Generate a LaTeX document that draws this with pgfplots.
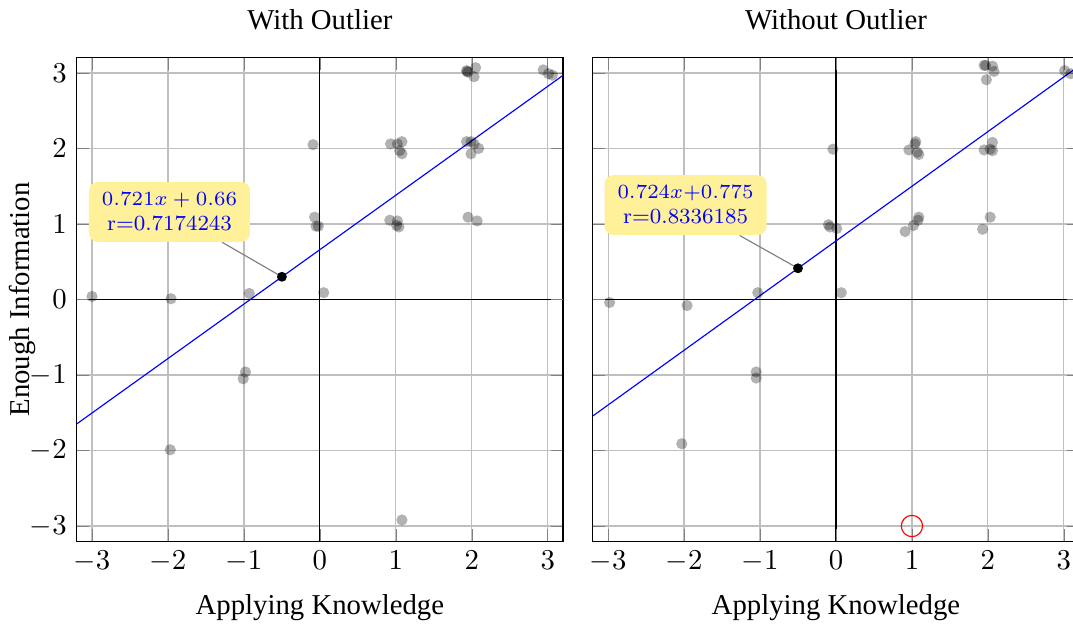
\documentclass[border=0pt]{standalone}
\usepackage{fontspec}
\usepackage{pgfplots}
\pgfplotsset{compat=1.18}
\newfontfamily\timesfont{Liberation Serif}
\definecolor{notefill}{RGB}{255,241,154}

\pgfplotsset{
  panel/.style={
    scale only axis, width=169pt, height=168pt,
    xmin=-3.2, xmax=3.2, ymin=-3.2, ymax=3.2,
    xtick={-3,...,3}, ytick={-3,...,3},
    grid=major,
    extra x ticks={0}, extra y ticks={0},
    extra x tick labels={}, extra y tick labels={},
    extra tick style={grid style={black, thin}},
    title style={font=\timesfont},
    label style={font=\timesfont},
    xlabel={Applying Knowledge},
    xlabel shift=1pt,
  },
  jitter/.style={only marks, mark=*, mark size=1.95pt,
    mark options={black, fill opacity=0.3, draw opacity=0}},
  fitline/.style={blue, thin, no marks},
  fitpoint/.style={only marks, mark=*, mark size=1.5pt, black},
}
\tikzset{
  note/.style={fill=notefill, rounded corners=3pt, text=blue,
    font=\fontsize{7.5}{8.7}\selectfont, align=center,
    inner xsep=4.5pt, inner ysep=3.7pt},
}

\begin{document}
\begin{tikzpicture}
\begin{axis}[panel, name=L, title={With Outlier}, ylabel={Enough Information},
  ylabel shift=-9pt]
  \addplot[jitter] coordinates {
    (-3.00,0.04) (-1.96,0.01) (-1.97,-1.99) (-0.93,0.08) (-0.98,-0.96)
    (-1.01,-1.05) (-0.09,2.05) (-0.07,1.09) (-0.05,0.97) (-0.02,0.97)
    (0.05,0.09) (0.93,2.06) (1.02,2.06) (1.08,2.09) (1.05,1.97)
    (1.08,1.93) (0.92,1.05) (1.02,1.04) (1.01,0.98) (1.04,0.96)
    (1.08,-2.92) (1.93,3.03) (1.95,3.01) (1.94,3.02) (2.05,3.07)
    (2.03,2.95) (1.93,2.09) (1.99,2.09) (2.03,2.06) (2.09,2.00)
    (1.99,1.93) (1.95,1.09) (2.07,1.04) (2.94,3.04) (3.01,2.99)
    (3.06,2.97)
  };
  \addplot[fitline] coordinates {(-3.2,-1.6472) (3.2,2.9672)};
  \addplot[fitpoint] coordinates {(-0.5,0.3005)};
  \node[note] (nl) at (axis cs:-1.98,1.16) {$0.721x + 0.66$\\r=0.7174243};
  \draw[gray] (axis cs:-0.5,0.3005) -- (nl);
\end{axis}

\begin{axis}[panel, name=R, at={(L.south east)}, xshift=10.4pt, anchor=south west,
  title={Without Outlier}, yticklabels={}]
  \addplot[jitter] coordinates {
    (-2.98,-0.04) (-1.96,-0.08) (-2.03,-1.91) (-1.03,0.09) (-1.05,-0.96)
    (-1.05,-1.04) (-0.04,1.99) (-0.10,0.99) (-0.08,0.96) (0.01,0.94)
    (0.07,0.09) (1.05,2.09) (1.04,2.06) (0.96,1.98) (1.09,1.92)
    (1.07,1.95) (1.09,1.09) (1.08,1.05) (1.02,0.98) (0.91,0.90)
    (1.95,3.10) (1.97,3.10) (2.06,3.09) (2.08,3.02) (1.98,2.91)
    (1.95,1.98) (2.06,2.08) (2.06,1.97) (2.03,1.99) (2.03,1.09)
    (1.93,0.93) (3.01,3.03) (3.09,2.99)
  };
  \addplot[fitline] coordinates {(-3.2,-1.5418) (3.2,3.0918)};
  \addplot[fitpoint] coordinates {(-0.5,0.413)};
  \addplot[only marks, mark=o, mark size=3.7pt, red] coordinates {(1,-3)};
  \node[note] (nr) at (axis cs:-1.98,1.25) {$0.724x{+}0.775$\\r=0.8336185};
  \draw[gray] (axis cs:-0.5,0.413) -- (nr);
\end{axis}

% page frame: fixed margins around the two panels, right edge trimmed
\pgfresetboundingbox
\path ([xshift=-26.7pt,yshift=-28.8pt]L.south west)
  rectangle ([xshift=-2.1pt,yshift=20.1pt]R.north east);
\end{tikzpicture}
\end{document}
